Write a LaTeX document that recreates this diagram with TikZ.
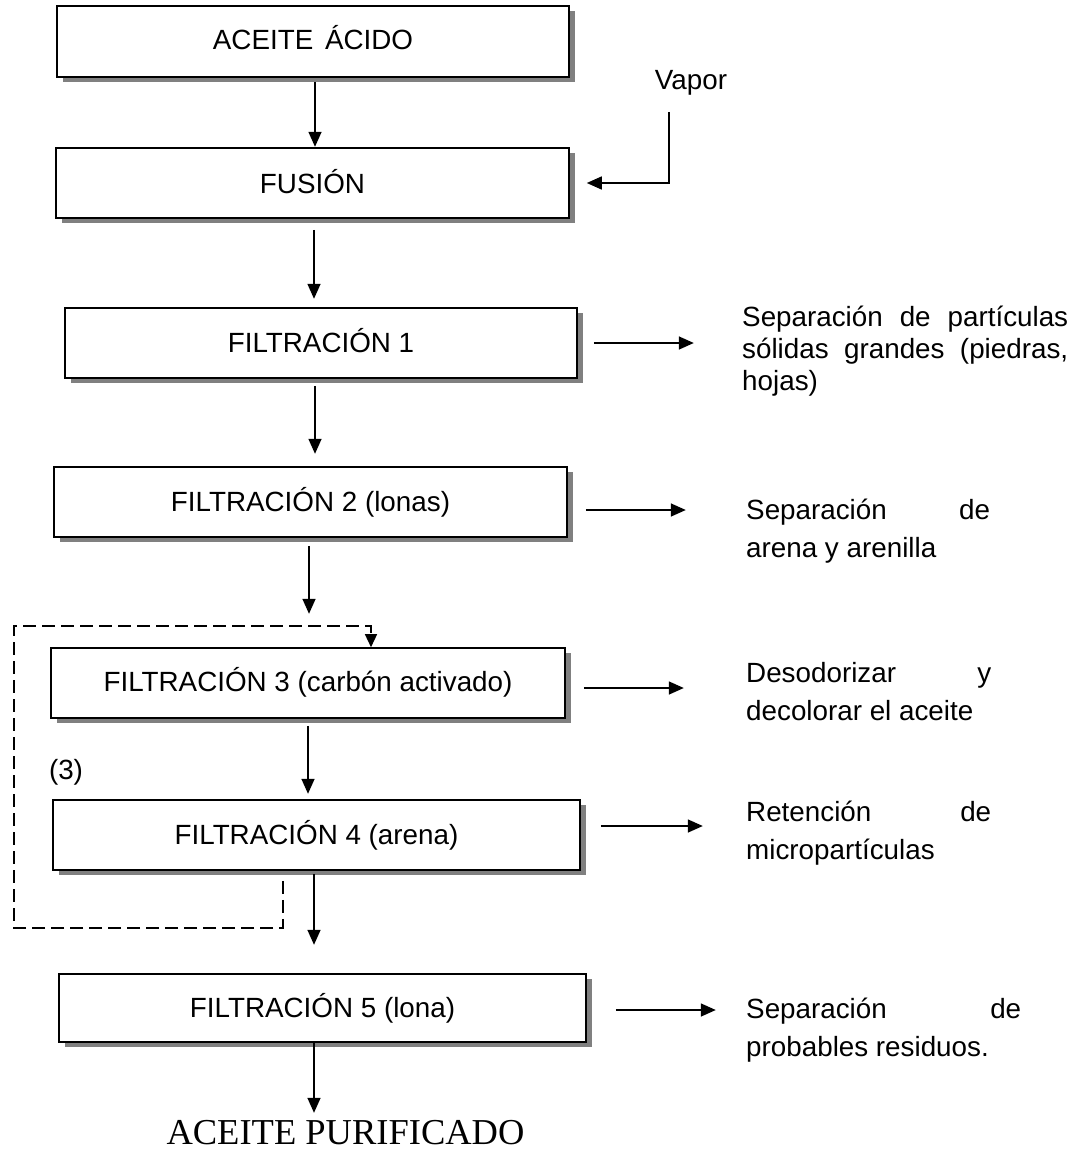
\documentclass[tikz,border=0pt]{standalone}
\usepackage{fontspec}
\setmainfont{Liberation Sans}
\newfontfamily\timesfont{Liberation Serif}
\usetikzlibrary{arrows.meta,shadows,calc}
\newcommand\flowfont{\fontsize{27.8}{33}\selectfont}
\begin{document}
\begin{tikzpicture}[x=1pt,y=-1pt,
  stepbox/.style={draw, fill=white, line width=1.6pt, inner sep=0pt,
    font=\flowfont,
    drop shadow={shadow xshift=6pt, shadow yshift=-5pt, fill=black!50, opacity=1}},
  arr/.style={line width=1.5pt, -{Triangle[length=15pt,width=13pt]}},
  loopline/.style={line width=1.4pt, dash pattern=on 13pt off 6pt,
    -{Triangle[length=13pt,width=12pt]}},
  note/.style={inner sep=0pt, anchor=base west},
  lbl/.style={inner sep=0pt, font=\flowfont}]
\useasboundingbox (0,0) rectangle (1081,1153);

% process steps
\node[stepbox, minimum width=512pt, minimum height=71pt] (b1) at (313,41.5) {\raisebox{8pt}{ACEITE\hspace{0.42em}ÁCIDO}};
\node[stepbox, minimum width=513pt, minimum height=70pt] (b2) at (312.5,183) {\raisebox{3pt}{FUSIÓN}};
\node[stepbox, minimum width=512pt, minimum height=70pt] (b3) at (321,343) {\raisebox{6pt}{FILTRACIÓN 1}};
\node[stepbox, minimum width=513pt, minimum height=70pt] (b4) at (310.5,502) {\raisebox{2.5pt}{FILTRACIÓN 2 (lonas)}};
\node[stepbox, minimum width=514pt, minimum height=70pt] (b5) at (308,683) {\raisebox{8pt}{FILTRACIÓN 3 (carbón activado)}};
\node[stepbox, minimum width=527pt, minimum height=70pt] (b6) at (316.5,835) {\raisebox{3pt}{FILTRACIÓN 4 (arena)}};
\node[stepbox, minimum width=527pt, minimum height=68pt] (b7) at (322.5,1008) {\raisebox{4pt}{FILTRACIÓN 5 (lona)}};

\node[inner sep=0pt, font=\timesfont\fontsize{36.5}{40}\selectfont] (out) at (345.5,1133) {ACEITE PURIFICADO};

% steam input
\node[lbl] (vap) at (691,83) {Vapor};
\coordinate (vs) at (669,112);
\draw[arr] (vs) |- ([xshift=17pt]b2.east);

% main flow
\draw[arr] ([xshift=2pt,yshift=-4pt]b1.south) -- ++(0,65);
\draw[arr] ([xshift=1.5pt,yshift=-11pt]b2.south) -- ++(0,69);
\draw[arr] ([xshift=-6pt,yshift=-7pt]b3.south) -- ++(0,68);
\draw[arr] ([xshift=-1.5pt,yshift=-8pt]b4.south) -- ++(0,68);
\draw[arr] ([yshift=-7pt]b5.south) -- ++(0,68);
\draw[arr] ([xshift=-2.5pt,yshift=-3pt]b6.south) -- ++(0,71);
\draw[arr] ([xshift=-8.5pt]b7.south) -- ++(0,70);

% recirculation between filters 3 and 4
\draw[loopline] ($(b6.south)+(-33.5,10)$) -- ++(0,47) -| ++(-269,-302) -| ([xshift=63pt]b5.north);
\node[lbl] (rep) at (66,772) {(3)};

% outputs of each filter
\draw[arr] ([xshift=16pt]b3.east) -- ++(100,0);
\draw[arr] ($(b4.east)+(18,8)$) -- ++(100,0);
\draw[arr] ($(b5.east)+(18,5)$) -- ++(100,0);
\draw[arr] ($(b6.east)+(20,-9)$) -- ++(102,0);
\draw[arr] ($(b7.east)+(29,2)$) -- ++(100,0);

\node[note, font=\fontsize{27.8}{32}\selectfont] (t1) at (742,326)
  {\parbox[t]{330pt}{\raggedright\makebox[326pt][s]{Separación de partículas}\\
   \makebox[326pt][s]{sólidas grandes (piedras,}\\hojas)}};
\node[note, font=\fontsize{27.8}{38.5}\selectfont] (t2) at (746,519)
  {\parbox[t]{280pt}{\raggedright\makebox[244pt][s]{Separación de}\\arena y arenilla}};
\node[note, font=\fontsize{27.8}{38.5}\selectfont] (t3) at (746,682)
  {\parbox[t]{280pt}{\raggedright\makebox[245pt][s]{Desodorizar y}\\decolorar el aceite}};
\node[note, font=\fontsize{27.8}{38.5}\selectfont] (t4) at (746,821)
  {\parbox[t]{280pt}{\raggedright\makebox[245pt][s]{Retención de}\\micropartículas}};
\node[note, font=\fontsize{27.8}{38.5}\selectfont] (t5) at (746,1018)
  {\parbox[t]{300pt}{\raggedright\makebox[275pt][s]{Separación de}\\probables residuos.}};
\end{tikzpicture}
\end{document}
